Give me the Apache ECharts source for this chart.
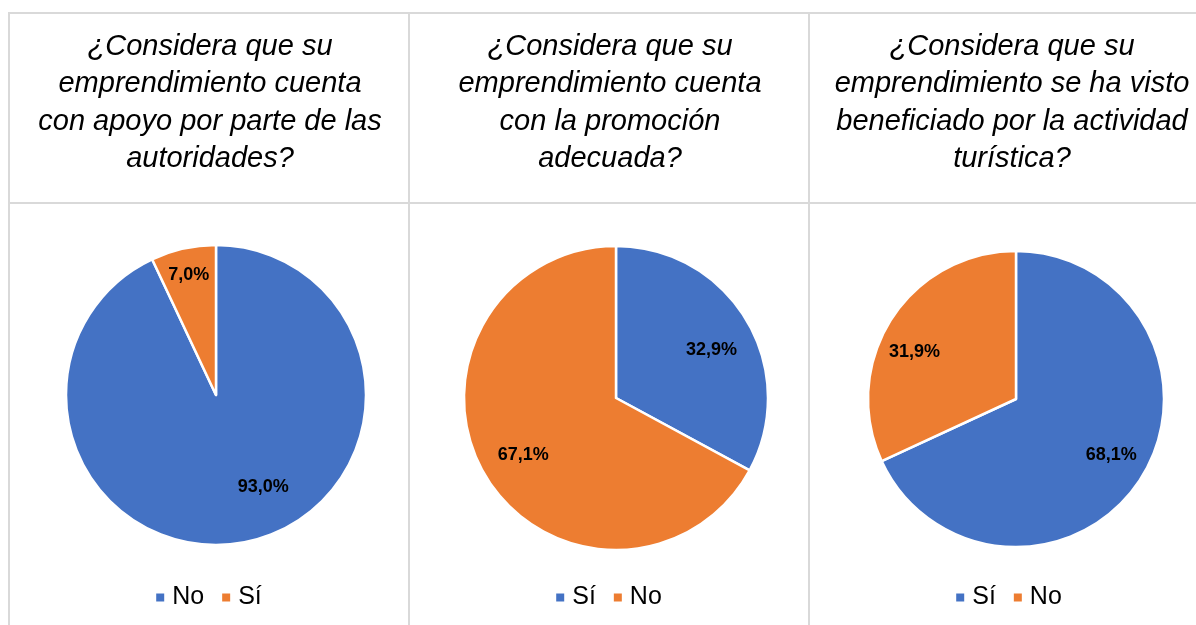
<!DOCTYPE html>
<html>
<head>
<meta charset="utf-8">
<script src="https://cdn.jsdelivr.net/npm/echarts@6/dist/echarts.min.js"></script>
<style>
  html, body { margin: 0; padding: 0; background: #fff; overflow: hidden; }
  #wrap { position: relative; width: 1196px; height: 625px; overflow: hidden; }
  .col { position: absolute; top: 0; width: 400px; height: 625px; }
</style>
</head>
<body>
<div id="wrap">
  <div class="col" id="c0" style="left:8px"></div>
  <div class="col" id="c1" style="left:408px"></div>
  <div class="col" id="c2" style="left:808px"></div>
</div>
<script>
// preguntas (títulos de cada columna)
const titles = [
  "¿Considera que su\nemprendimiento cuenta\ncon apoyo por parte de las\nautoridades?",
  "¿Considera que su\nemprendimiento cuenta\ncon la promoción\nadecuada?",
  "¿Considera que su\nemprendimiento se ha visto\nbeneficiado por la actividad\nturística?"
];

// categorías y porcentajes de cada gráfico
const cats1 = ["No", "Sí"];
const vals1 = [93.0, 7.0];
const cats2 = ["Sí", "No"];
const vals2 = [32.9, 67.1];
const cats3 = ["Sí", "No"];
const vals3 = [68.1, 31.9];

const colors = ["#4472C4", "#ED7D31"];
const lineColor = "#d9d9d9";
const font = "'Liberation Sans'";

// centro / radio de cada pastel, distancia y giro (grados) de las etiquetas
const layouts = [
  { cy: 395, r: 150, ratio: [0.68, 0.83], shift: [-15, 0], tx: 202 },
  { cy: 398, r: 152, ratio: [0.71, 0.71], shift: [3, 0], tx: 202 },
  { cy: 399, r: 148, ratio: [0.74, 0.76], shift: [-3, -7], tx: 204 }
];

function fmt(v) {
  return v.toFixed(1).replace(".", ",") + "%";
}

function drawPie(idx, cats, vals) {
  const chart = echarts.init(document.getElementById("c" + idx));
  const lay = layouts[idx];
  const cx = 208;
  const total = vals.reduce((a, b) => a + b, 0);
  // ángulo medio de cada porción (desde arriba, sentido horario)
  const mids = [];
  let acc = 0;
  vals.forEach((v, i) => {
    mids.push(((acc + v / 2) / total) * Math.PI * 2 + (lay.shift[i] * Math.PI) / 180);
    acc += v;
  });

  const option = {
    animation: false,
    color: colors,
    legend: {
      data: cats,
      left: "center",
      top: 585,
      padding: 0,
      icon: "rect",
      itemWidth: 10,
      itemHeight: 10,
      itemGap: 16,
      selectedMode: false,
      textStyle: {
        fontFamily: font,
        fontSize: 25,
        color: "#000",
        padding: [0, 0, 0, 2]
      }
    },
    graphic: [
      { type: "line", shape: { x1: 1, y1: 13, x2: 1, y2: 625 }, style: { stroke: lineColor, lineWidth: 2 } },
      { type: "line", shape: { x1: 0, y1: 13, x2: 400, y2: 13 }, style: { stroke: lineColor, lineWidth: 2 } },
      { type: "line", shape: { x1: 0, y1: 203, x2: 400, y2: 203 }, style: { stroke: lineColor, lineWidth: 2 } },
      {
        type: "text",
        x: lay.tx,
        y: 28,
        style: {
          text: titles[idx],
          align: "center",
          verticalAlign: "top",
          fontFamily: font,
          fontStyle: "italic",
          fontSize: 29,
          lineHeight: 37.5,
          fill: "#000"
        }
      }
    ],
    series: [
      {
        type: "pie",
        center: [cx, lay.cy],
        radius: [0, lay.r],
        startAngle: 90,
        clockwise: true,
        data: cats.map((c, i) => ({ name: c, value: vals[i] })),
        itemStyle: { borderColor: "#fff", borderWidth: 2.5 },
        label: {
          show: true,
          position: "inside",
          formatter: (p) => fmt(p.value),
          fontFamily: font,
          fontWeight: "bold",
          fontSize: 18,
          color: "#000"
        },
        labelLine: { show: false },
        labelLayout: function (params) {
          const i = params.dataIndex;
          const d = lay.r * lay.ratio[i];
          return {
            x: cx + d * Math.sin(mids[i]),
            y: lay.cy - d * Math.cos(mids[i]) + 2,
            align: "center",
            verticalAlign: "middle"
          };
        },
        emphasis: { disabled: true }
      }
    ]
  };
  chart.setOption(option);
}

drawPie(0, cats1, vals1);
drawPie(1, cats2, vals2);
drawPie(2, cats3, vals3);
</script>
</body>
</html>
